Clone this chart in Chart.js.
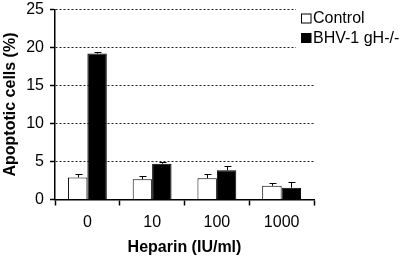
<!DOCTYPE html>
<html>
<head>
<meta charset="utf-8">
<script src="https://cdn.jsdelivr.net/npm/chart.js@4/dist/chart.umd.min.js"></script>
<style>
html,body{margin:0;padding:0;background:#fff;}
#wrap{width:403px;height:260px;position:relative;}
</style>
</head>
<body>
<div id="wrap"><canvas id="c" width="403" height="260"></canvas></div>
<script>
const categories = ['0', '10', '100', '1000'];
const controlValues = [2.9, 2.65, 2.8, 1.8];
const controlErrors = [0.4, 0.45, 0.55, 0.35];
const bhvValues = [19.2, 4.7, 3.85, 1.55];
const bhvErrors = [0.2, 0.3, 0.55, 0.7];
const seriesLabels = ['Control', 'BHV-1 gH-/-'];
const yTicks = [0, 5, 10, 15, 20, 25];

const FONT = '"Liberation Sans", Arial, sans-serif';
const errors = [controlErrors, bhvErrors];

const errorBarPlugin = {
  id: 'errorBars',
  afterDatasetsDraw(chart) {
    const ctx = chart.ctx;
    const y = chart.scales.y;
    ctx.save();
    ctx.strokeStyle = '#000';
    ctx.lineWidth = 1;
    chart.data.datasets.forEach((ds, di) => {
      const meta = chart.getDatasetMeta(di);
      meta.data.forEach((bar, i) => {
        const v = ds.data[i];
        const e = errors[di][i];
        const x = Math.round(bar.x) + 0.5;
        const y0 = y.getPixelForValue(v);
        const y1 = Math.round(y.getPixelForValue(v + e)) + 0.5;
        ctx.beginPath();
        ctx.moveTo(x, y0);
        ctx.lineTo(x, y1);
        ctx.moveTo(x - 3, y1);
        ctx.lineTo(x + 4, y1);
        ctx.stroke();
      });
    });
    ctx.restore();
  }
};

const legendPlugin = {
  id: 'customLegend',
  afterDraw(chart) {
    const ctx = chart.ctx;
    ctx.save();
    ctx.fillStyle = '#fff';
    ctx.fillRect(296, 0, 107, 50);
    const rows = [18.5, 38];
    ctx.font = '16px ' + FONT;
    ctx.textBaseline = 'middle';
    chart.data.datasets.forEach((ds, i) => {
      const cy = rows[i];
      ctx.fillStyle = ds.backgroundColor;
      ctx.fillRect(301, cy - 4.5, 10, 9);
      ctx.strokeStyle = '#000';
      ctx.lineWidth = 1;
      ctx.strokeRect(301.5, cy - 4.5, 9.5, 9);
      ctx.fillStyle = '#000';
      ctx.fillText(ds.label, 313, cy + 0.5);
    });
    ctx.restore();
  }
};

new Chart(document.getElementById('c'), {
  type: 'bar',
  data: {
    labels: categories,
    datasets: [
      { label: seriesLabels[0], data: controlValues, backgroundColor: '#ffffff', borderColor: '#000', borderWidth: 1, borderSkipped: 'bottom' },
      { label: seriesLabels[1], data: bhvValues, backgroundColor: '#000000', borderColor: '#000', borderWidth: 1, borderSkipped: 'bottom' }
    ]
  },
  options: {
    responsive: false,
    animation: false,
    devicePixelRatio: 1,
    layout: { padding: { top: 0, right: 89, left: 0, bottom: 0 } },
    datasets: { bar: { categoryPercentage: 0.6, barPercentage: 1.0 } },
    plugins: { legend: { display: false }, tooltip: { enabled: false } },
    scales: {
      x: {
        offset: true,
        afterFit(s) { s.height = 60.5; s.paddingLeft = 0; s.paddingRight = 0; },
        grid: { display: true, drawOnChartArea: false, offset: true, tickLength: 6, tickColor: '#000', tickWidth: 1.5 },
        border: { display: true, color: '#000', width: 1.5 },
        ticks: { color: '#000', font: { family: FONT, size: 16 }, padding: 7, maxRotation: 0 },
        title: { display: true, text: 'Heparin (IU/ml)', color: '#000', font: { family: FONT, size: 16, weight: 'bold' }, padding: { top: 0, bottom: 2.4 } }
      },
      y: {
        min: 0, max: 25,
        afterFit(s) { s.width = 55; s.paddingTop = 9.5; s.paddingBottom = 0; },
        afterBuildTicks(s) { s.ticks = yTicks.map(v => ({ value: v })); },
        grid: {
          color: ctx => ctx.tick && ctx.tick.value === 0 ? 'rgba(0,0,0,0)' : '#222',
          lineWidth: 1,
          tickLength: 5,
          tickColor: '#000',
          tickWidth: 1.5,
          tickBorderDash: []
        },
        border: { display: true, color: '#000', width: 1.5, dash: [2, 2] },
        ticks: { color: '#000', font: { family: FONT, size: 16 }, padding: 6 },
        title: { display: true, text: 'Apoptotic cells (%)', color: '#000', font: { family: FONT, size: 16, weight: 'bold' }, padding: { top: 1, bottom: 0 } }
      }
    }
  },
  plugins: [errorBarPlugin, legendPlugin]
});
</script>
</body>
</html>
